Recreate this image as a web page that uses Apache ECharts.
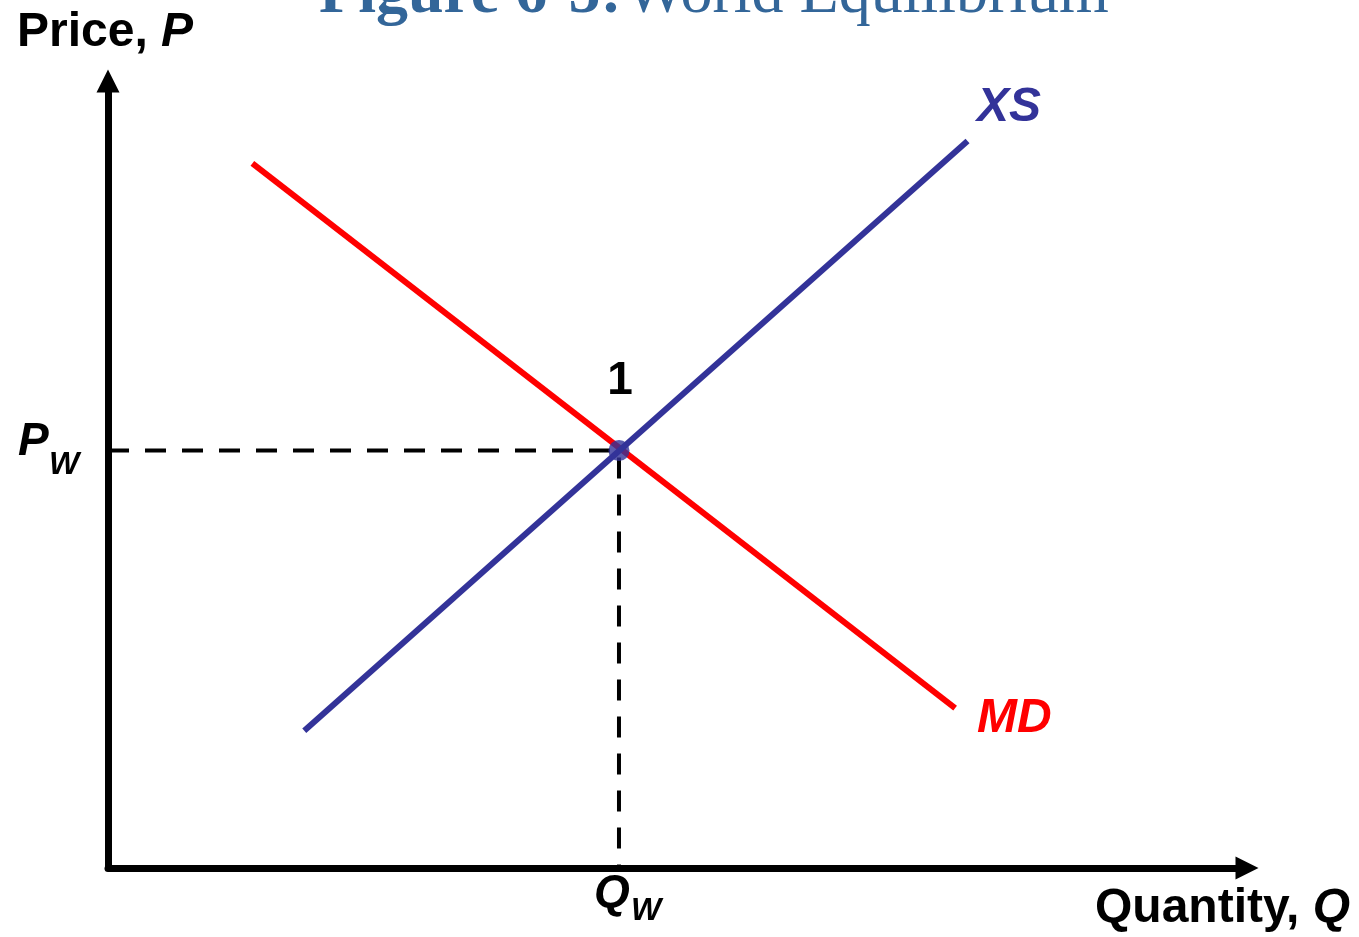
<!DOCTYPE html>
<html>
<head>
<meta charset="utf-8">
<title>World Equilibrium</title>
<script src="https://cdn.jsdelivr.net/npm/echarts@6/dist/echarts.min.js"></script>
<style>
  html, body { margin: 0; padding: 0; background: #fff; }
  #chart { width: 1359px; height: 937px; }
</style>
</head>
<body>
<div id="chart"></div>
<script>
// curves in axis units (quantity 0-10, price 0-10)
const mdPoints = [[1.28, 9.08], [7.51, 2.06]]
const xsPoints = [[1.74, 1.77], [7.62, 9.37]]
const equilibrium = [4.53, 5.38]

const chart = echarts.init(document.getElementById("chart"))

const sans = "Liberation Sans, Arial, sans-serif"
const serif = "Liberation Serif, Times New Roman, serif"
const axisStyle = {
  show: true,
  symbol: ["none", "triangle"],
  symbolSize: [23, 23],
  symbolOffset: [0, 11],
  lineStyle: { color: "#000", width: 7 },
}

const option = {
  animation: false,
  backgroundColor: "#fff",
  grid: { left: 108, right: 123, top: 92, bottom: 69 },
  xAxis: {
    type: "value",
    min: 0,
    max: 10,
    axisLine: axisStyle,
    axisTick: { show: false },
    axisLabel: { show: false },
    splitLine: { show: false },
  },
  yAxis: {
    type: "value",
    min: 0,
    max: 10,
    axisLine: axisStyle,
    axisTick: { show: false },
    axisLabel: { show: false },
    splitLine: { show: false },
  },
  series: [
    {
      name: "guides",
      type: "line",
      symbol: "none",
      z: 1,
      data: [[0, equilibrium[1]], equilibrium, [equilibrium[0], 0]],
      lineStyle: { color: "#000", width: 4, type: [21, 16] },
    },
    {
      name: "MD",
      type: "line",
      symbol: "none",
      z: 2,
      data: mdPoints,
      lineStyle: { color: "#ff0000", width: 6 },
    },
    {
      name: "XS",
      type: "line",
      symbol: "none",
      z: 3,
      data: xsPoints,
      lineStyle: { color: "#333399", width: 6 },
    },
    {
      name: "1",
      type: "scatter",
      z: 4,
      symbolSize: 21,
      data: [equilibrium],
      itemStyle: { color: "#333399" },
    },
  ],
  graphic: [
    {
      type: "text",
      x: 714,
      y: -37,
      style: {
        text: "{b|Figure 6-5:} {r|World Equilibrium}",
        align: "center",
        fill: "#336699",
        rich: {
          b: { fontFamily: serif, fontSize: 64, fontWeight: "bold", fill: "#336699" },
          r: { fontFamily: serif, fontSize: 64, fill: "#336699" },
        },
      },
    },
    {
      type: "text",
      x: 17,
      y: 33,
      style: {
        text: "{a|Price, }{i|P}",
        verticalAlign: "middle",
        rich: {
          a: { fontFamily: sans, fontSize: 48, fontWeight: "bold", fill: "#000" },
          i: { fontFamily: sans, fontSize: 48, fontWeight: "bold", fontStyle: "italic", fill: "#000" },
        },
      },
    },
    {
      type: "text",
      x: 1095,
      y: 909,
      style: {
        text: "{a|Quantity, }{i|Q}",
        verticalAlign: "middle",
        rich: {
          a: { fontFamily: sans, fontSize: 48, fontWeight: "bold", fill: "#000" },
          i: { fontFamily: sans, fontSize: 48, fontWeight: "bold", fontStyle: "italic", fill: "#000" },
        },
      },
    },
    {
      type: "text", x: 977, y: 108,
      style: { text: "XS", fontFamily: sans, fontSize: 48, fontWeight: "bold", fontStyle: "italic", fill: "#333399", verticalAlign: "middle" },
    },
    {
      type: "text", x: 977, y: 719,
      style: { text: "MD", fontFamily: sans, fontSize: 48, fontWeight: "bold", fontStyle: "italic", fill: "#ff0000", verticalAlign: "middle" },
    },
    {
      type: "text", x: 620, y: 381,
      style: { text: "1", fontFamily: sans, fontSize: 46, fontWeight: "bold", fill: "#000", align: "center", verticalAlign: "middle" },
    },
    {
      type: "text", x: 18, y: 442,
      style: { text: "P", fontFamily: sans, fontSize: 46, fontWeight: "bold", fontStyle: "italic", fill: "#000", verticalAlign: "middle" },
    },
    {
      type: "text", x: 49, y: 465,
      style: { text: "W", fontFamily: sans, fontSize: 32, fontWeight: "bold", fontStyle: "italic", fill: "#000", verticalAlign: "middle" },
    },
    {
      type: "text", x: 594, y: 894,
      style: { text: "Q", fontFamily: sans, fontSize: 46, fontWeight: "bold", fontStyle: "italic", fill: "#000", verticalAlign: "middle" },
    },
    {
      type: "text", x: 631, y: 911,
      style: { text: "W", fontFamily: sans, fontSize: 32, fontWeight: "bold", fontStyle: "italic", fill: "#000", verticalAlign: "middle" },
    },
  ],
}

chart.setOption(option)
</script>
</body>
</html>
